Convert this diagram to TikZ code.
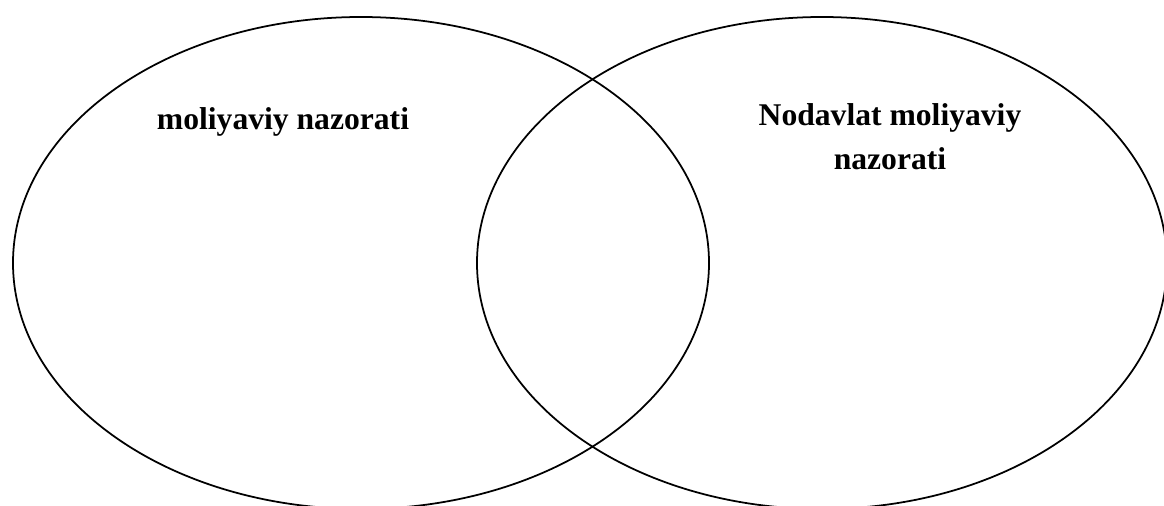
\documentclass[tikz,border=0pt]{standalone}
\usepackage{fontspec}
\setmainfont{Liberation Serif}
\usetikzlibrary{positioning}

\begin{document}
\begin{tikzpicture}[
    x=0.02cm, y=-0.02cm,
    set/.style={draw=black, line width=1pt},
    lbl/.style={font=\fontsize{18}{25.5}\selectfont\bfseries, inner sep=0pt, align=center}
  ]
  \useasboundingbox (0,0) rectangle (1164,506);

  % Two overlapping sets
  \begin{scope}
    \clip (0,0) rectangle (1164,506);
    \coordinate (cl) at (361,263);
    \coordinate (cr) at (822,263);
    \draw[set] (cl) ellipse [x radius=348, y radius=246];
    \draw[set] (cr) ellipse [x radius=345, y radius=246];
  \end{scope}

  % Labels
  \node[lbl, anchor=base] (left) at (283,130) {moliyaviy nazorati};
  \node[lbl, anchor=base] (right) at (890,170) {Nodavlat moliyaviy\\nazorati};
\end{tikzpicture}
\end{document}
